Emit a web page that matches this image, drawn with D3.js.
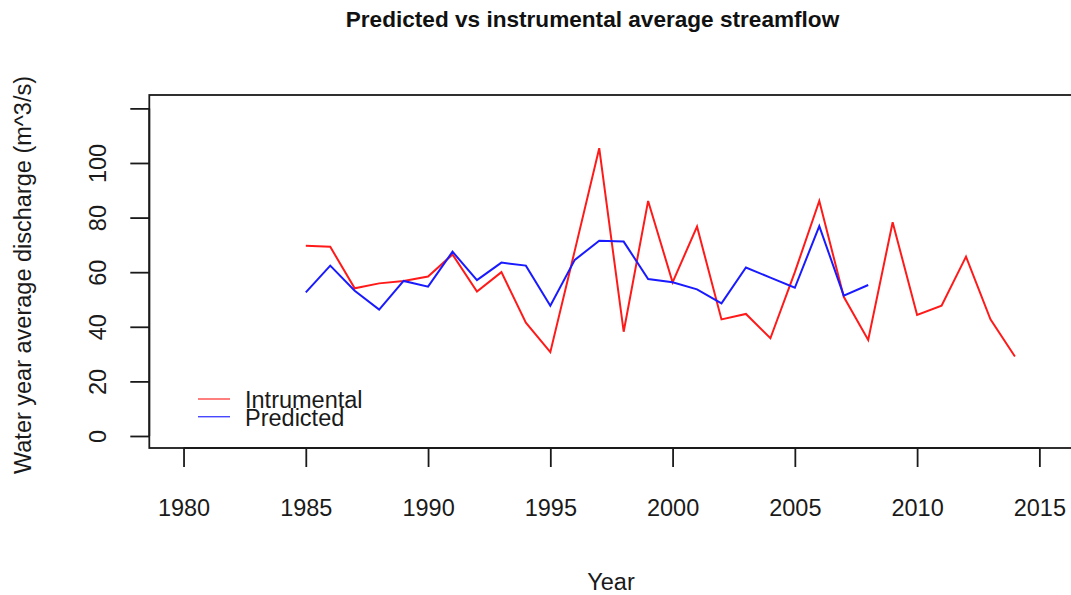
<!DOCTYPE html>
<html>
<head>
<meta charset="utf-8">
<script src="https://cdn.jsdelivr.net/npm/d3@7/dist/d3.min.js"></script>
<style>
  html, body { margin: 0; padding: 0; background: #fff; overflow: hidden; }
  svg { display: block; font-family: "Liberation Sans", Arial, Helvetica, sans-serif; }
</style>
</head>
<body>
<svg id="chart" width="1071" height="595"></svg>
<script>
// Water-year average discharge, observed gauge record
const instYears = [1985,1986,1987,1988,1989,1990,1991,1992,1993,1994,1995,1996,1997,1998,1999,
                   2000,2001,2002,2003,2004,2005,2006,2007,2008,2009,2010,2011,2012,2013,2014];
const instValues = [69.7,69.3,54.1,55.9,56.8,58.4,66.5,52.9,60.0,41.5,30.7,67.9,105.4,38.2,86.1,
                    56.3,76.7,42.7,44.7,35.8,60.0,86.1,51.0,35.2,78.3,44.3,47.7,65.7,42.7,29.1];

// Reconstructed (predicted) discharge
const predYears = [1985,1986,1987,1988,1989,1990,1991,1992,1993,1994,1995,1996,
                   1997,1998,1999,2000,2001,2002,2003,2004,2005,2006,2007,2008];
const predValues = [52.6,62.4,53.2,46.3,56.8,54.7,67.5,57.1,63.5,62.4,47.7,64.5,
                    71.5,71.2,57.5,56.3,53.7,48.6,61.7,58.0,54.3,76.9,51.4,55.3];

const xTicks = [1980,1985,1990,1995,2000,2005,2010,2015];
const yTicks = [0,20,40,60,80,100,120];
const yTickLabels = ["0","20","40","60","80","100",""];

const titleText = "Predicted vs instrumental average streamflow";
const xLabel = "Year";
const yLabel = "Water year average discharge (m^3/s)";
const legendNames = ["Intrumental","Predicted"];
const legendColors = ["#ff1a1a","#1a1aff"];

const svg = d3.select("#chart");
const box = { left: 149.3, right: 1073.6, top: 95, bottom: 448 };

const x = d3.scaleLinear().domain([1978.6, 2016.4]).range([box.left, box.right]);
const y = d3.scaleLinear().domain([-4.4, 124.9]).range([box.bottom, box.top]);

const ink = "#1a1a1a";
const fontPx = 23.5;

// plot frame
svg.append("rect")
  .attr("x", box.left).attr("y", box.top)
  .attr("width", box.right - box.left).attr("height", box.bottom - box.top)
  .attr("fill", "none").attr("stroke", ink).attr("stroke-width", 1.8);

// x axis
const xAxis = svg.append("g")
  .attr("transform", `translate(0,${box.bottom})`)
  .call(d3.axisBottom(x).tickValues(xTicks).tickFormat(d3.format("d"))
        .tickSize(19).tickPadding(30));
xAxis.select(".domain").attr("stroke", ink).attr("stroke-width", 1.8)
  .attr("d", `M${x(1980)},0H${x(2015)}`);
xAxis.selectAll(".tick line").attr("stroke", ink).attr("stroke-width", 1.8);
xAxis.selectAll(".tick text")
  .attr("font-size", fontPx).attr("fill", ink)
  .attr("font-family", "Liberation Sans, Arial, sans-serif")
  .attr("dy", null).attr("y", 68);

// y axis
const yAxis = svg.append("g")
  .attr("transform", `translate(${box.left},0)`)
  .call(d3.axisLeft(y).tickValues(yTicks).tickFormat((d, i) => yTickLabels[i]).tickSize(19));
yAxis.select(".domain").attr("stroke", ink).attr("stroke-width", 1.8)
  .attr("d", `M0,${y(0)}V${y(120)}`);
yAxis.selectAll(".tick line").attr("stroke", ink).attr("stroke-width", 1.8);
yAxis.selectAll(".tick text")
  .attr("font-size", fontPx).attr("fill", ink)
  .attr("font-family", "Liberation Sans, Arial, sans-serif")
  .attr("x", null).attr("dy", null)
  .attr("text-anchor", "middle")
  .attr("transform", "translate(-43,0) rotate(-90)");

// series lines
const line = d3.line().x(d => x(d[0])).y(d => y(d[1]));
const series = [
  { pts: d3.zip(instYears, instValues), color: legendColors[0] },
  { pts: d3.zip(predYears, predValues), color: legendColors[1] }
];
svg.append("g").selectAll("path").data(series).join("path")
  .attr("d", d => line(d.pts))
  .attr("fill", "none")
  .attr("stroke", d => d.color)
  .attr("stroke-width", 2)
  .attr("stroke-linejoin", "miter");

// legend
const legend = svg.append("g").attr("transform", "translate(198,399)");
legendNames.forEach((name, i) => {
  const row = legend.append("g").attr("transform", `translate(0,${i * 17.7})`);
  row.append("line").attr("x1", 0).attr("x2", 32).attr("y1", 0).attr("y2", 0)
    .attr("stroke", legendColors[i]).attr("stroke-width", 1.4).attr("stroke-opacity", 0.8);
  row.append("text").attr("x", 47).attr("y", 9).attr("font-size", fontPx)
    .attr("fill", ink).text(name);
});

// title and axis titles
svg.append("text").attr("x", 592.5).attr("y", 27).attr("text-anchor", "middle")
  .attr("font-size", 22.6).attr("font-weight", "bold").attr("fill", "#111").text(titleText);
svg.append("text").attr("x", 611).attr("y", 590).attr("text-anchor", "middle")
  .attr("font-size", fontPx).attr("fill", ink).text(xLabel);
svg.append("text").attr("transform", "translate(31,275) rotate(-90)")
  .attr("text-anchor", "middle").attr("font-size", fontPx).attr("fill", ink).text(yLabel);
</script>
</body>
</html>
